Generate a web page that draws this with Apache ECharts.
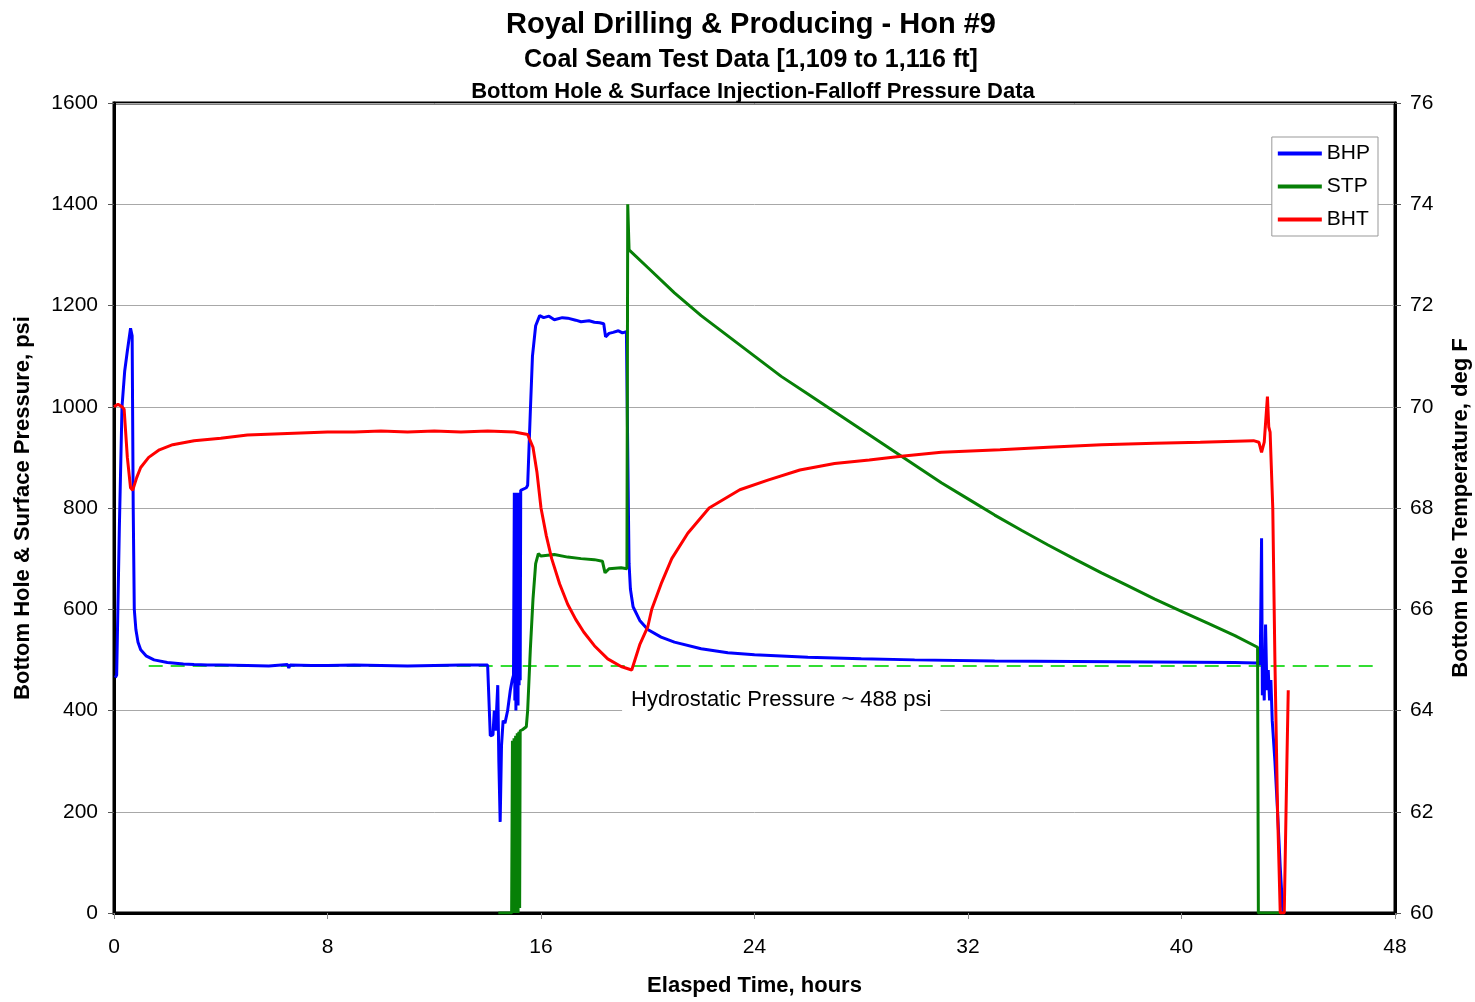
<!DOCTYPE html>
<html>
<head>
<meta charset="utf-8">
<title>Royal Drilling &amp; Producing - Hon #9</title>
<script src="https://cdn.jsdelivr.net/npm/echarts@6/dist/echarts.min.js"></script>
<style>
  html, body { margin: 0; padding: 0; background: #fff; overflow: hidden; }
  #chart { width: 1475px; height: 1002px; }
</style>
</head>
<body>
<div id="chart"></div>
<script>
// Bottom hole pressure, psi (elapsed time in hours)
const bhpHours = [0.05, 0.1, 0.2, 0.3, 0.4, 0.5, 0.62, 0.68, 0.72, 0.76, 0.82, 0.9, 1.0, 1.2, 1.5, 2.0, 2.6, 3.0, 3.5, 4.0, 5.0, 5.8, 6.5, 6.55, 6.6, 7.4, 8.0, 9.0, 10.0, 11.0, 12.0, 13.0, 13.5, 14.0,
  14.05, 14.1, 14.2, 14.25, 14.3, 14.38, 14.42, 14.47, 14.52, 14.58, 14.65, 14.75, 14.85, 14.92, 14.97,
  15.0, 15.02, 15.04, 15.06, 15.08, 15.1, 15.12, 15.14, 15.16, 15.18, 15.2, 15.22, 15.24, 15.3, 15.45, 15.5,
  15.6, 15.68, 15.8, 15.95, 16.1, 16.3, 16.5, 16.8, 17.0, 17.3, 17.5, 17.8, 18.0, 18.2, 18.35, 18.42, 18.55, 18.7, 18.9, 19.05, 19.2, 19.25,
  19.28, 19.3, 19.35, 19.45, 19.7, 20.0, 20.5, 21.0, 22.0, 23.0, 24.0,
  26.0, 28.0, 30.0, 33.0, 36.0, 39.0, 42.0, 42.8, 42.95, 43.0, 43.03, 43.07, 43.1, 43.15, 43.2, 43.25, 43.3, 43.35, 43.4, 43.5, 43.6, 43.7, 43.8, 43.85];
const bhpPsi = [465, 470, 760, 1000, 1070, 1110, 1155, 1140, 800, 600, 560, 535, 520, 508, 500, 495, 492, 491, 490, 490, 489, 488, 491, 484, 490, 489, 489, 490, 489, 488, 489, 490, 490, 490,
  488, 350, 352, 400, 360, 450, 300, 180, 330, 380, 375, 400, 440, 460, 470,
  830, 420, 830, 400, 830, 430, 830, 410, 830, 450, 830, 460, 835, 835, 840, 845,
  990, 1100, 1160, 1180, 1176, 1179, 1172, 1176, 1175, 1171, 1168, 1170, 1167, 1166, 1164, 1138, 1145, 1147, 1150, 1146, 1148, 1150,
  775, 690, 640, 605, 578, 560, 545, 535, 522, 514, 510,
  505, 502, 500, 498, 497, 496, 495, 494, 492, 740, 430, 480, 420, 570, 440, 480, 420, 460, 380, 300, 200, 90, 0, 0];

// Surface tubing pressure, psi
const stpHours = [14.4, 14.9, 14.93, 14.96, 14.99, 15.02, 15.05, 15.08, 15.11, 15.14, 15.17, 15.2, 15.22, 15.3, 15.45, 15.5, 15.6, 15.7, 15.8, 15.9, 16.0, 16.5, 17.0, 17.5, 18.0, 18.3, 18.4, 18.55, 19.0, 19.22,
  19.25, 19.3, 20.0, 21.0, 22.0, 23.0, 24.0, 25.0, 26.0, 27.0, 28.0, 29.0, 30.0, 31.0, 32.0, 33.0, 34.0, 35.0, 36.0, 37.0, 38.0, 39.0, 40.0, 41.0, 42.0, 42.85, 42.88, 43.8];
const stpPsi = [0, 0, 340, 0, 345, 0, 350, 0, 355, 0, 358, 10, 360, 362, 368, 400, 520, 620, 690, 710, 705, 708, 703, 700, 698, 695, 672, 680, 682, 680,
  1400, 1310, 1275, 1225, 1180, 1140, 1100, 1060, 1025, 990, 955, 920, 885, 850, 818, 786, 756, 727, 699, 672, 646, 620, 596, 572, 548, 525, 0, 0];

// Bottom hole temperature, deg F
const bhtHours = [0.0, 0.15, 0.3, 0.38, 0.5, 0.62, 0.7, 0.85, 1.0, 1.3, 1.7, 2.2, 3.0, 4.0, 5.0, 6.0, 7.0, 8.0, 9.0, 10.0, 11.0, 12.0, 13.0, 14.0, 15.0, 15.5,
  15.7, 15.85, 16.0, 16.2, 16.4, 16.7, 17.0, 17.3, 17.6, 18.0, 18.5, 19.0, 19.4, 19.7, 20.0, 20.15, 20.5, 20.9, 21.5, 22.3, 23.45, 24.5, 25.7, 27.0, 28.3, 29.5,
  31.0, 33.2, 35.0, 37.0, 39.0, 40.7, 42.7, 42.9, 43.0, 43.1, 43.22, 43.27, 43.32, 43.42, 43.5, 43.6, 43.7, 43.85, 43.95, 44.0];
const bhtDegF = [70.0, 70.05, 70.0, 69.95, 69.0, 68.4, 68.35, 68.6, 68.8, 69.0, 69.15, 69.25, 69.33, 69.38, 69.44, 69.46, 69.48, 69.5, 69.5, 69.52, 69.5, 69.52, 69.5, 69.52, 69.5, 69.45,
  69.2, 68.7, 68.0, 67.45, 67.0, 66.5, 66.1, 65.8, 65.55, 65.28, 65.02, 64.87, 64.8, 65.3, 65.65, 66.0, 66.5, 67.0, 67.5, 68.0, 68.36, 68.55, 68.75, 68.88, 68.95, 69.02,
  69.1, 69.15, 69.2, 69.25, 69.28, 69.3, 69.33, 69.3, 69.1, 69.3, 70.2, 69.6, 69.5, 68.0, 65.0, 62.0, 60.0, 60.0, 63.0, 64.4];

// Hydrostatic reference level
const hydroHours = [1.3, 47.2];
const hydroPsi = 488;
const hydroLabel = 'Hydrostatic Pressure ~ 488 psi';
const hydroLabelAt = [25.0, 420];

const timeTicks = { min: 0, max: 48, step: 8 };
const psiTicks = { min: 0, max: 1600, step: 200 };
const degTicks = { min: 60, max: 76, step: 2 };

const zip = (xs, ys) => xs.map((x, i) => [x, ys[i]]);
const FONT = 'Liberation Sans, Arial, sans-serif';
const plain = v => String(v);

const chart = echarts.init(document.getElementById('chart'), null, { renderer: 'canvas' });

chart.setOption({
  animation: false,
  backgroundColor: '#ffffff',
  textStyle: { fontFamily: FONT },
  title: [
    { text: 'Royal Drilling & Producing - Hon #9', left: 746, top: 5, textAlign: 'center',
      textStyle: { fontFamily: FONT, fontSize: 29, fontWeight: 'bold', color: '#000' } },
    { text: 'Coal Seam Test Data [1,109 to 1,116 ft]', left: 746, top: 43, textAlign: 'center',
      textStyle: { fontFamily: FONT, fontSize: 25, fontWeight: 'bold', color: '#000' } },
    { text: 'Bottom Hole & Surface Injection-Falloff Pressure Data', left: 748, top: 76, textAlign: 'center',
      textStyle: { fontFamily: FONT, fontSize: 22, fontWeight: 'bold', color: '#000' } }
  ],
  grid: { left: 114, right: 80, top: 103, bottom: 89, outerBoundsMode: 'none',
    show: true, borderColor: '#000', borderWidth: 3, containLabel: false },
  legend: {
    orient: 'vertical',
    right: 97, top: 137,
    backgroundColor: '#fff',
    borderColor: '#999', borderWidth: 1,
    padding: [6, 8, 6, 6],
    itemWidth: 44, itemHeight: 4, itemGap: 12,
    icon: 'rect',
    textStyle: { fontFamily: FONT, fontSize: 21, color: '#000' },
    data: ['BHP', 'STP', 'BHT']
  },
  xAxis: {
    type: 'value', min: timeTicks.min, max: timeTicks.max, interval: timeTicks.step,
    name: 'Elasped Time, hours', nameLocation: 'middle', nameGap: 62,
    nameTextStyle: { fontFamily: FONT, fontSize: 22, fontWeight: 'bold', color: '#000' },
    axisLine: { show: true, lineStyle: { color: '#000', width: 3 } },
    axisTick: { show: true, length: 6, lineStyle: { color: '#888' } },
    axisLabel: { fontFamily: FONT, fontSize: 21, color: '#000', margin: 24, formatter: plain },
    splitLine: { show: false }
  },
  yAxis: [
    {
      type: 'value', min: psiTicks.min, max: psiTicks.max, interval: psiTicks.step,
      name: 'Bottom Hole & Surface Pressure, psi', nameLocation: 'middle', nameGap: 80, nameRotate: 90,
      nameTextStyle: { fontFamily: FONT, fontSize: 22, fontWeight: 'bold', color: '#000' },
      axisLine: { show: true, lineStyle: { color: '#000', width: 3 } },
      axisTick: { show: true, length: 6, lineStyle: { color: '#555' } },
      axisLabel: { fontFamily: FONT, fontSize: 21, color: '#000', margin: 16, formatter: plain },
      splitLine: { show: true, lineStyle: { color: '#a8a8a8', width: 1 } }
    },
    {
      type: 'value', min: degTicks.min, max: degTicks.max, interval: degTicks.step, position: 'right',
      name: 'Bottom Hole Temperature, deg F', nameLocation: 'middle', nameGap: 55, nameRotate: 90,
      nameTextStyle: { fontFamily: FONT, fontSize: 22, fontWeight: 'bold', color: '#000' },
      axisLine: { show: true, lineStyle: { color: '#000', width: 3 } },
      axisTick: { show: true, length: 6, lineStyle: { color: '#555' } },
      axisLabel: { fontFamily: FONT, fontSize: 21, color: '#000', margin: 15, formatter: plain },
      splitLine: { show: false }
    }
  ],
  series: [
    {
      name: 'Hydrostatic', type: 'line', yAxisIndex: 0, showSymbol: false, silent: true,
      data: hydroHours.map(h => [h, hydroPsi]),
      lineStyle: { color: '#33dd33', width: 2, type: [14, 8] },
      markPoint: {
        symbol: 'rect', symbolSize: 0,
        data: [{ coord: hydroLabelAt }],
        label: {
          show: true, formatter: hydroLabel, position: 'inside',
          fontFamily: FONT, fontSize: 22, color: '#000',
          backgroundColor: '#fff', padding: [4, 9]
        }
      }
    },
    {
      name: 'BHP', type: 'line', yAxisIndex: 0, showSymbol: false,
      data: zip(bhpHours, bhpPsi),
      color: '#0000ff', lineStyle: { color: '#0000ff', width: 3 }
    },
    {
      name: 'STP', type: 'line', yAxisIndex: 0, showSymbol: false,
      data: zip(stpHours, stpPsi),
      color: '#078007', lineStyle: { color: '#078007', width: 3 }
    },
    {
      name: 'BHT', type: 'line', yAxisIndex: 1, showSymbol: false,
      data: zip(bhtHours, bhtDegF),
      color: '#ff0000', lineStyle: { color: '#ff0000', width: 3 }
    }
  ]
});
</script>
</body>
</html>
